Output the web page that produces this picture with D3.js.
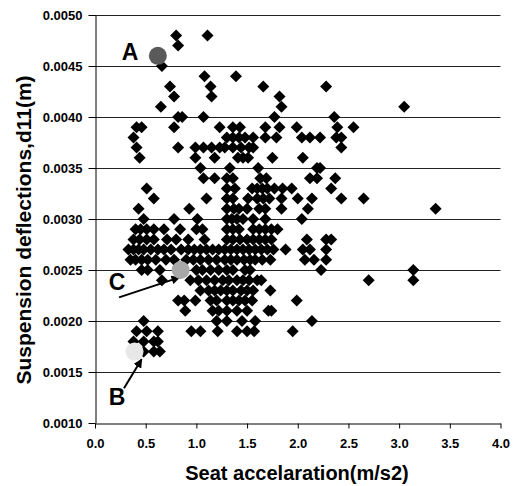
<!DOCTYPE html>
<html>
<head>
<meta charset="utf-8">
<script src="https://cdn.jsdelivr.net/npm/d3@7"></script>
<style>
  body { margin: 0; background: #fff; }
  text { font-family: Arial, "Liberation Sans", sans-serif; font-weight: bold; }
</style>
</head>
<body>
<script>
// deflection levels (m) and the seat acceleration values found at each level
const deflectionLevels = [
  0.0048, 0.0047, 0.0045, 0.0044, 0.0043, 0.0042, 0.0041, 0.0040, 0.0039, 0.0038,
  0.0037, 0.0036, 0.0035, 0.0034, 0.0033, 0.0032, 0.0031, 0.0030, 0.0029, 0.0028,
  0.0027, 0.0026, 0.0025, 0.0024, 0.0023, 0.0022, 0.0021, 0.0020, 0.0019, 0.0018, 0.0017
];
const accelAtLevel = [
  [0.80, 1.11],
  [0.82],
  [0.66],
  [1.08, 1.39],
  [0.74, 1.14, 1.66, 2.28],
  [0.78, 1.15, 1.82],
  [0.65, 1.84, 3.05],
  [0.82, 0.86, 1.07, 1.77, 2.36],
  [0.41, 0.46, 0.78, 1.23, 1.36, 1.43, 1.68, 1.82, 1.99, 2.39, 2.55],
  [0.38, 1.30, 1.36, 1.42, 1.48, 1.56, 1.68, 1.79, 2.04, 2.12, 2.22, 2.38, 2.43],
  [0.41, 0.82, 0.99, 1.07, 1.15, 1.23, 1.28, 1.36, 1.44, 1.52, 1.56, 2.43],
  [0.44, 0.99, 1.18, 1.41, 1.46, 1.51, 1.75, 2.05],
  [1.04, 1.33, 1.61, 2.19, 2.22],
  [1.07, 1.18, 1.30, 1.36, 1.63, 1.69, 2.12, 2.19, 2.37],
  [0.51, 1.30, 1.38, 1.55, 1.60, 1.65, 1.70, 1.77, 1.85, 1.94, 2.33],
  [0.58, 1.10, 1.30, 1.36, 1.51, 1.60, 1.66, 1.72, 1.84, 2.00, 2.14, 2.43, 2.65],
  [0.43, 0.93, 1.30, 1.37, 1.42, 1.50, 1.62, 1.68, 1.84, 2.10, 3.36],
  [0.48, 0.78, 1.01, 1.30, 1.35, 1.40, 1.46, 1.56, 1.68, 2.04],
  [0.40, 0.45, 0.51, 0.58, 0.68, 0.84, 1.00, 1.06, 1.30, 1.36, 1.42, 1.56, 1.62, 1.68, 1.74, 1.80],
  [0.38, 0.44, 0.51, 0.58, 0.71, 0.80, 0.92, 1.08, 1.30, 1.36, 1.43, 1.50, 1.56, 1.62, 1.68, 1.74, 2.09, 2.28, 2.33],
  [0.33, 0.38, 0.43, 0.48, 0.55, 0.62, 0.68, 0.75, 0.85, 0.92, 0.98, 1.04, 1.10, 1.16, 1.22, 1.28, 1.34,
   1.40, 1.46, 1.52, 1.58, 1.64, 1.70, 1.76, 1.88, 2.05, 2.12, 2.28],
  [0.35, 0.40, 0.46, 0.52, 0.60, 0.70, 0.78, 0.90, 0.97, 1.04, 1.12, 1.20, 1.28, 1.34, 1.40, 1.47, 1.53,
   1.58, 1.65, 1.73, 2.07, 2.16, 2.28],
  [0.46, 0.52, 0.64, 1.00, 1.06, 1.14, 1.22, 1.30, 1.36, 1.48, 1.53, 2.23, 3.14],
  [0.66, 0.94, 1.02, 1.10, 1.18, 1.26, 1.32, 1.40, 1.46, 1.52, 1.60, 1.64, 2.70, 3.14],
  [1.04, 1.12, 1.18, 1.24, 1.30, 1.36, 1.44, 1.50, 1.56, 1.73],
  [0.82, 0.88, 0.99, 1.14, 1.20, 1.30, 1.36, 1.42, 1.48, 1.55, 1.99],
  [0.89, 1.16, 1.22, 1.30, 1.40, 1.50, 1.71, 1.74],
  [0.48, 1.20, 1.30, 1.45, 1.58, 2.14],
  [0.41, 0.51, 0.62, 0.95, 1.04, 1.21, 1.40, 1.50, 1.57, 1.95],
  [0.38, 0.48, 0.58, 0.62],
  [0.48, 0.58, 0.64]
];

// highlighted cases
const caseNames = ["A", "B", "C"];
const caseAccel = [0.62, 0.39, 0.845];
const caseDefl = [0.0046, 0.0017, 0.0025];
const caseFill = ["#5a5a5a", "#e8e8e8", "#a8a8a8"];
const caseLabelAt = [[0.345, 0.00456], [0.217, 0.001176], [0.217, 0.002304]];
// arrows for B and C: [from, to] in data units
const arrows = [
  [[0.286, 0.00134], [0.46, 0.001624]],
  [[0.237, 0.002232], [0.835, 0.002428]]
];

const xTicks = [0, 0.5, 1, 1.5, 2, 2.5, 3, 3.5, 4];
const yTicks = [0.001, 0.0015, 0.002, 0.0025, 0.003, 0.0035, 0.004, 0.0045, 0.005];

const width = 515, height = 486;
const svg = d3.select("body").append("svg")
    .attr("width", width)
    .attr("height", height);

const x = d3.scaleLinear().domain([0, 4]).range([95, 500.5]);
const y = d3.scaleLinear().domain([0.001, 0.005]).range([423, 15]);

// horizontal grid
svg.append("g")
  .selectAll("line")
  .data(yTicks.slice(1))
  .join("line")
    .attr("x1", x(0))
    .attr("x2", x(4))
    .attr("y1", d => Math.round(y(d)) + 0.5)
    .attr("y2", d => Math.round(y(d)) + 0.5)
    .attr("stroke", "#222")
    .attr("stroke-width", 1);

// axes
const xAxis = svg.append("g")
    .attr("transform", `translate(0,${Math.round(y(0.001)) + 0.5})`)
    .call(d3.axisBottom(x).tickValues(xTicks).tickFormat(d3.format(".1f"))
      .tickSize(5).tickSizeOuter(0).tickPadding(10));

const yAxis = svg.append("g")
    .attr("transform", `translate(${Math.round(x(0)) + 0.5},0)`)
    .call(d3.axisLeft(y).tickValues(yTicks).tickFormat(d3.format(".4f"))
      .tickSize(7).tickSizeOuter(0).tickPadding(6));

[xAxis, yAxis].forEach(g => {
  g.select(".domain").attr("stroke", "#000");
  g.selectAll(".tick line").attr("stroke", "#000");
  g.selectAll(".tick text")
    .attr("fill", "#000")
    .style("font-size", "13px")
    .style("font-family", "Arial, 'Liberation Sans', sans-serif")
    .style("font-weight", "bold");
});

// diamonds
const points = [];
deflectionLevels.forEach((lv, i) => {
  accelAtLevel[i].forEach(a => points.push([a, lv]));
});

svg.append("g")
  .selectAll("path")
  .data(points)
  .join("path")
    .attr("transform", d => `translate(${x(d[0])},${y(d[1])})`)
    .attr("d", "M0,-6L6,0L0,6L-6,0Z")
    .attr("fill", "#000");

// arrow heads
svg.append("defs").append("marker")
    .attr("id", "head")
    .attr("viewBox", "0 -5 10 10")
    .attr("refX", 9)
    .attr("refY", 0)
    .attr("markerWidth", 4.5)
    .attr("markerHeight", 4.5)
    .attr("orient", "auto")
  .append("path")
    .attr("d", "M0,-5L10,0L0,5Z")
    .attr("fill", "#000");

svg.append("g")
  .selectAll("line")
  .data(arrows)
  .join("line")
    .attr("x1", d => x(d[0][0]))
    .attr("y1", d => y(d[0][1]))
    .attr("x2", d => x(d[1][0]))
    .attr("y2", d => y(d[1][1]))
    .attr("stroke", "#000")
    .attr("stroke-width", 2)
    .attr("marker-end", "url(#head)");

// highlighted circles
svg.append("g")
  .selectAll("circle")
  .data(caseNames)
  .join("circle")
    .attr("cx", (d, i) => x(caseAccel[i]))
    .attr("cy", (d, i) => y(caseDefl[i]))
    .attr("r", 9)
    .attr("fill", (d, i) => caseFill[i]);

svg.append("g")
  .selectAll("text")
  .data(caseNames)
  .join("text")
    .attr("x", (d, i) => x(caseLabelAt[i][0]))
    .attr("y", (d, i) => y(caseLabelAt[i][1]))
    .attr("text-anchor", "middle")
    .style("font-size", "23px")
    .text(d => d);

// axis titles
svg.append("text")
    .attr("x", 297)
    .attr("y", 480)
    .attr("text-anchor", "middle")
    .style("font-size", "20px")
    .text("Seat accelaration(m/s2)");

svg.append("text")
    .attr("transform", "translate(31,230) rotate(-90)")
    .attr("text-anchor", "middle")
    .style("font-size", "21px")
    .text("Suspension deflections,d11(m)");
</script>
</body>
</html>
